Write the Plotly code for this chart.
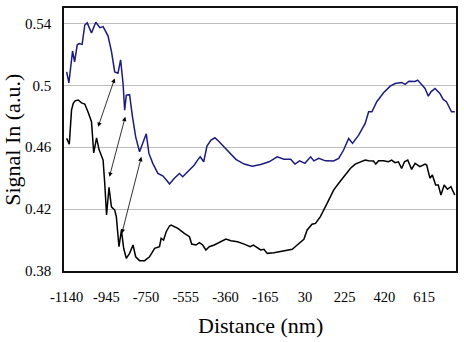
import plotly.graph_objects as go

# Blue (upper) series
blue_x = [-1140, -1129, -1111, -1101, -1088, -1078, -1064, -1051, -1039, -1018, -997, -977, -961, -937,
          -920, -904, -888, -875, -863, -855, -847, -831, -817, -801, -782, -770, -749, -736, -717, -692,
          -668, -643, -635, -611, -586, -570, -546, -513, -497, -484, -467, -451, -431, -412, -391, -366,
          -333, -309, -268, -228, -187, -146, -106, -73, -40, -19, 4, 30, 58, 74, 98, 131, 171, 196, 220,
          245, 264, 294, 326, 343, 359, 383, 416, 449, 473, 505, 522, 541, 571, 584, 603, 620, 636, 649,
          669, 693, 709, 725, 750, 766]
blue_y = [0.5087, 0.5016, 0.5222, 0.5152, 0.5262, 0.5270, 0.5265, 0.5390, 0.5404, 0.5338, 0.5408, 0.5373,
          0.5380, 0.5320, 0.5220, 0.5087, 0.5078, 0.5165, 0.5012, 0.4840, 0.4937, 0.4940, 0.4800, 0.4667,
          0.4571, 0.4614, 0.4687, 0.4560, 0.4496, 0.4431, 0.4415, 0.4377, 0.4362, 0.4400, 0.4430, 0.4409,
          0.4442, 0.4485, 0.4517, 0.4538, 0.4506, 0.4607, 0.4646, 0.4661, 0.4635, 0.4599, 0.4554, 0.4522,
          0.4491, 0.4478, 0.4489, 0.4506, 0.4538, 0.4523, 0.4522, 0.4491, 0.4512, 0.4496, 0.4538, 0.4512,
          0.4528, 0.4512, 0.4511, 0.4528, 0.4582, 0.4657, 0.4625, 0.4678, 0.4754, 0.4829, 0.4829, 0.4894,
          0.4952, 0.4995, 0.5012, 0.5019, 0.5006, 0.5027, 0.5025, 0.5034, 0.5006, 0.4980, 0.4930, 0.4958,
          0.4980, 0.4948, 0.4909, 0.4894, 0.4829, 0.4829]

# Black (lower) series
black_x = [-1140, -1132, -1127, -1116, -1108, -1099, -1083, -1067, -1051, -1034, -1018, -1007, -993, -981,
           -969, -961, -953, -944, -932, -920, -904, -896, -883, -871, -860, -847, -831, -814, -801, -782,
           -757, -733, -708, -684, -676, -664, -651, -635, -627, -594, -562, -537, -526, -505, -488, -472,
           -456, -440, -415, -382, -358, -333, -301, -268, -239, -223, -206, -187, -171, -155, -122, -97,
           -65, -32, -8, 25, 41, 65, 82, 106, 139, 171, 196, 220, 253, 277, 302, 326, 343, 367, 378, 392,
           416, 440, 456, 473, 489, 505, 519, 535, 554, 571, 595, 620, 628, 644, 656, 672, 685, 698, 714,
           730, 747, 766]
black_y = [0.4657, 0.4625, 0.4620, 0.4840, 0.4883, 0.4900, 0.4905, 0.4887, 0.4879, 0.4825, 0.4765, 0.4563,
           0.4660, 0.4585, 0.4538, 0.4517, 0.4367, 0.4162, 0.4341, 0.4215, 0.4194, 0.4151, 0.3957, 0.4065,
           0.3947, 0.3882, 0.3914, 0.3968, 0.3892, 0.3867, 0.3867, 0.3892, 0.3947, 0.3957, 0.4011, 0.4000,
           0.4054, 0.4091, 0.4097, 0.4076, 0.4043, 0.4022, 0.3974, 0.3968, 0.3983, 0.3968, 0.3936, 0.3957,
           0.3968, 0.3989, 0.4007, 0.3996, 0.3989, 0.3974, 0.3957, 0.3968, 0.3953, 0.3936, 0.3940, 0.3914,
           0.3918, 0.3925, 0.3929, 0.3940, 0.3968, 0.4005, 0.4065, 0.4102, 0.4108, 0.4151, 0.4237, 0.4323,
           0.4367, 0.4405, 0.4463, 0.4491, 0.4506, 0.4517, 0.4512, 0.4511, 0.4491, 0.4512, 0.4512, 0.4506,
           0.4517, 0.4500, 0.4506, 0.4463, 0.4506, 0.4517, 0.4457, 0.4496, 0.4474, 0.4491, 0.4485, 0.4400,
           0.4420, 0.4356, 0.4356, 0.4291, 0.4356, 0.4328, 0.4345, 0.4291]

x_ticks = [-1140, -945, -750, -555, -360, -165, 30, 225, 420, 615]
y_ticks = [0.38, 0.42, 0.46, 0.50, 0.54]
y_ticktext = ["0.38", "0.42", "0.46", "0.5", "0.54"]

# Double-headed arrows (tail x, tail y, head x, head y)
arrows = [(-988, 0.4722, -904, 0.5045),
          (-932, 0.4399, -852, 0.4797),
          (-871, 0.4033, -773, 0.4538)]

FONT = "Times New Roman, serif"

fig = go.Figure()
fig.add_trace(go.Scatter(x=blue_x, y=blue_y, mode="lines",
                         line=dict(color="#1b1b80", width=1.5), showlegend=False))
fig.add_trace(go.Scatter(x=black_x, y=black_y, mode="lines",
                         line=dict(color="#000000", width=1.5), showlegend=False))

for (tx, ty, hx, hy) in arrows:
    fig.add_annotation(x=hx, y=hy, ax=tx, ay=ty, xref="x", yref="y", axref="x", ayref="y",
                       text="", showarrow=True, arrowhead=2, arrowside="end+start",
                       arrowsize=1.1, arrowwidth=0.8, arrowcolor="#000000")

fig.add_annotation(text="Signal In (a.u.)", xref="paper", yref="paper", x=-0.132, y=0.5,
                   textangle=-90, showarrow=False,
                   font=dict(family=FONT, size=22),
                   xanchor="center", yanchor="middle")
fig.add_annotation(text="Distance (nm)", xref="paper", yref="paper", x=0.5, y=-0.208,
                   showarrow=False,
                   font=dict(family=FONT, size=22),
                   xanchor="center", yanchor="middle")

fig.update_layout(
    width=464, height=342,
    margin=dict(l=64, r=6, t=8, b=71),
    paper_bgcolor="white", plot_bgcolor="white",
    font=dict(family=FONT, color="black"),
    xaxis=dict(range=[-1153, 772], tickvals=x_ticks, ticktext=[str(v) for v in x_ticks],
               showgrid=False, zeroline=False, showline=True, linecolor="#111", linewidth=1.5,
               mirror=True, ticks="outside", ticklen=12, tickcolor="rgba(0,0,0,0)",
               tickfont=dict(family=FONT, size=14.5)),
    yaxis=dict(range=[0.38, 0.55], tickvals=y_ticks, ticktext=y_ticktext,
               showgrid=True, gridcolor="#bdbdbd", gridwidth=1, zeroline=False,
               showline=True, linecolor="#111", linewidth=1.5, mirror=True,
               ticks="outside", ticklen=8, tickcolor="rgba(0,0,0,0)",
               tickfont=dict(family=FONT, size=15)),
)

fig.write_html("out.html")
